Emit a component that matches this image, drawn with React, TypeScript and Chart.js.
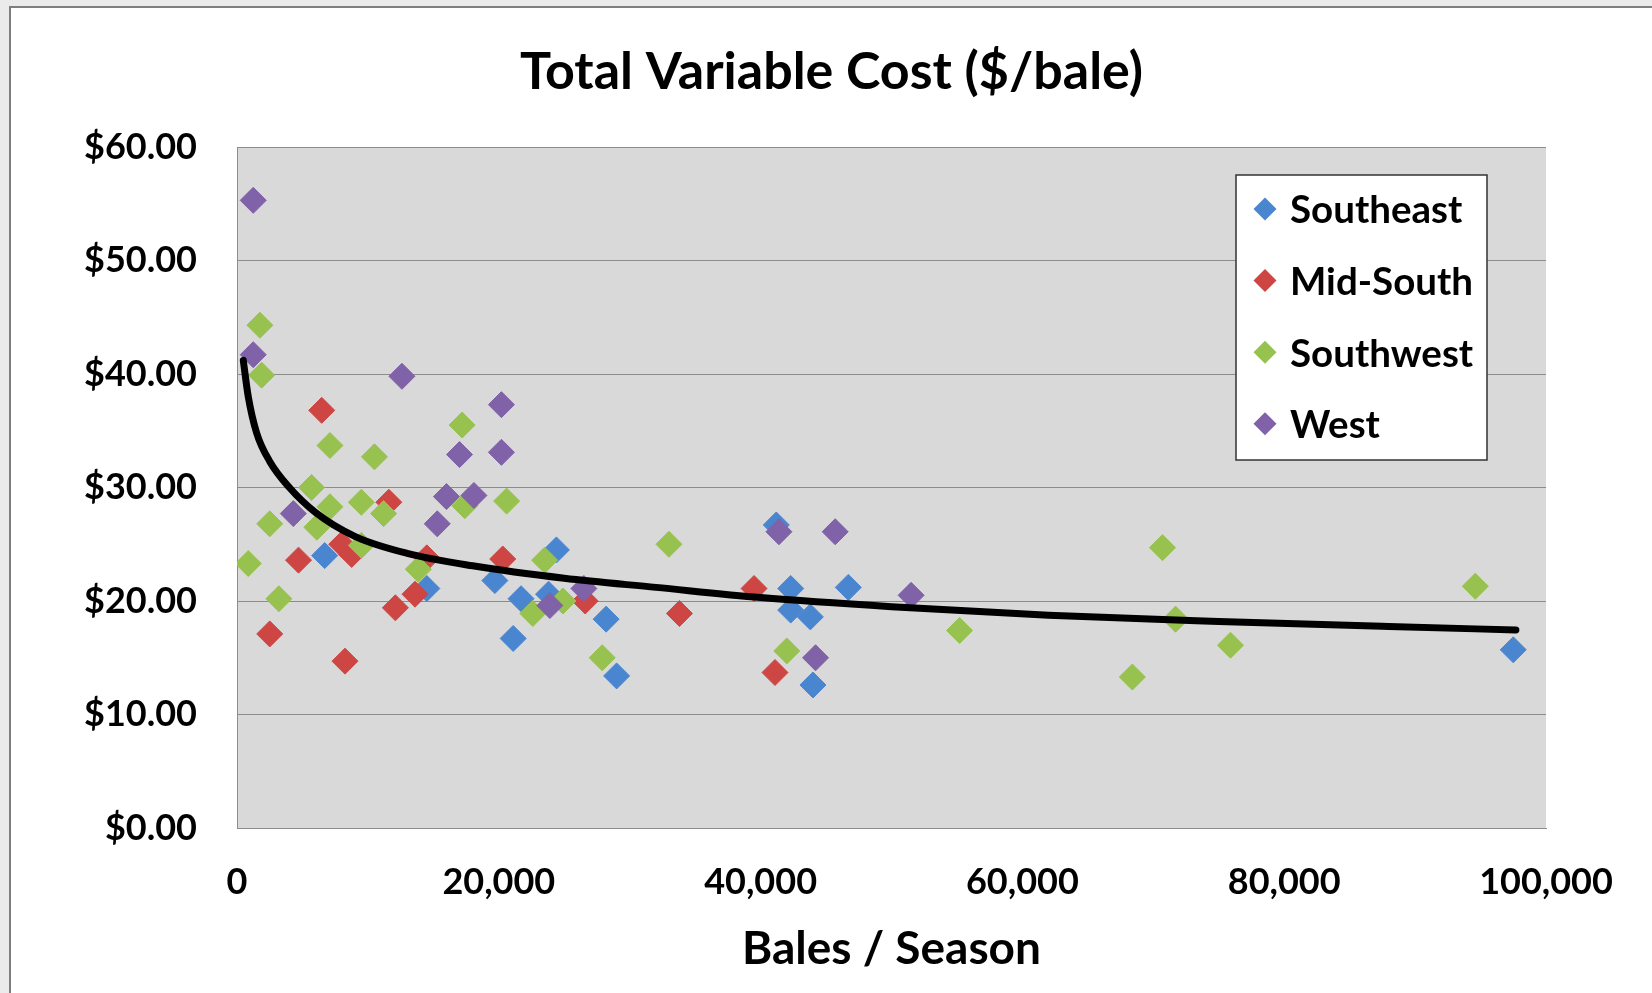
import React, { useEffect, useRef } from "react";
import { Chart, registerables } from "chart.js";

Chart.register(...registerables);

// ---- Data ----
const seriesNames = ["Southeast", "Mid-South", "Southwest", "West"];

const southeastX = [6700, 14500, 19700, 21700, 21100, 23800, 24400, 28200, 29000, 41200, 42300, 42300, 43800, 44000, 46700, 97500];
const southeastY = [24.0, 21.1, 21.8, 20.2, 16.7, 20.6, 24.5, 18.4, 13.4, 26.7, 21.1, 19.2, 18.6, 12.6, 21.2, 15.7];

const midSouthX = [2500, 4700, 6470, 8000, 8250, 8760, 11600, 12100, 13600, 14500, 20300, 26600, 33800, 39500, 41100];
const midSouthY = [17.1, 23.6, 36.8, 25.0, 14.7, 24.1, 28.7, 19.4, 20.6, 23.8, 23.7, 20.0, 18.9, 21.1, 13.7];

const southwestX = [860, 1750, 1880, 2500, 3200, 5700, 6100, 7100, 7100, 9500, 9500, 10500, 11200, 13850, 17200, 17400, 20600, 22600, 23500, 24900, 27900, 33000, 42000, 55200, 68400, 70700, 71700, 75900, 94600];
const southwestY = [23.3, 44.3, 39.9, 26.8, 20.2, 30.0, 26.5, 33.7, 28.3, 28.7, 24.9, 32.7, 27.7, 22.8, 35.5, 28.4, 28.8, 18.9, 23.6, 20.0, 15.0, 25.0, 15.6, 17.4, 13.3, 24.7, 18.4, 16.1, 21.3];

const westX = [1240, 1240, 4300, 12600, 15300, 16000, 17000, 18100, 20200, 20200, 23900, 26500, 41400, 44200, 45700, 51500];
const westY = [55.3, 41.7, 27.7, 39.8, 26.8, 29.2, 32.9, 29.3, 37.3, 33.1, 19.6, 21.1, 26.1, 15.0, 26.1, 20.5];

// trend line, points
const trendX = [480, 860, 1500, 2500, 4000, 6000, 9000, 13000, 18000, 25000, 32000, 40000, 50000, 62000, 75000, 88000, 97700];
const trendY = [41.2, 38.0, 34.8, 32.3, 30.0, 27.8, 25.7, 24.2, 23.1, 22.0, 21.2, 20.3, 19.5, 18.75, 18.2, 17.75, 17.45];

const xTickStep = 20000;
const yTickStep = 10;

const colors = ["#4a86d0", "#cd4644", "#98c250", "#8062a8"];

const FONT = "Lato";

const zip = (xs: number[], ys: number[]) => xs.map((x, i) => ({ x, y: ys[i] }));

const plotBg = {
  id: "plotBg",
  beforeDraw(chart: any) {
    const { ctx, chartArea: a } = chart;
    ctx.save();
    ctx.fillStyle = "#d9d9d9";
    ctx.fillRect(a.left, a.top, a.right - a.left, a.bottom - a.top);
    ctx.restore();
  },
};

const boxLegend = {
  id: "boxLegend",
  afterDraw(chart: any) {
    const { ctx, chartArea: a } = chart;
    const w = 251;
    const h = 285;
    const x0 = a.right - 59 - w;
    const y0 = a.top + 28;
    ctx.save();
    ctx.fillStyle = "#ffffff";
    ctx.fillRect(x0, y0, w, h);
    ctx.strokeStyle = "#333333";
    ctx.lineWidth = 1.5;
    ctx.strokeRect(x0, y0, w, h);
    ctx.font = `bold 38.5px ${FONT}`;
    ctx.textBaseline = "middle";
    ctx.textAlign = "left";
    seriesNames.forEach((name, i) => {
      const ds = chart.data.datasets[i];
      const cy = y0 + 34 + i * 71.6;
      const cx = x0 + 29;
      const r = 11.5;
      ctx.beginPath();
      ctx.moveTo(cx - r, cy);
      ctx.lineTo(cx, cy - r);
      ctx.lineTo(cx + r, cy);
      ctx.lineTo(cx, cy + r);
      ctx.closePath();
      ctx.fillStyle = ds.backgroundColor;
      ctx.fill();
      ctx.fillStyle = "#000000";
      ctx.fillText(name, x0 + 54, cy + 2);
    });
    ctx.restore();
  },
};

export default function App() {
  const ref = useRef<HTMLCanvasElement | null>(null);

  useEffect(() => {
    let chart: Chart | null = null;
    let cancelled = false;
    const make = () => {
      if (cancelled || !ref.current) return;
      const seriesX = [southeastX, midSouthX, southwestX, westX];
      const seriesY = [southeastY, midSouthY, southwestY, westY];
      const scatterSets = seriesNames.map((name, i) => ({
        label: name,
        data: zip(seriesX[i], seriesY[i]),
        backgroundColor: colors[i],
        borderColor: colors[i],
        borderWidth: 1,
        pointStyle: "rectRot",
        pointRadius: 13,
        pointHoverRadius: 13,
        order: 4 - i,
      }));
      chart = new Chart(ref.current, {
        type: "scatter",
        data: {
          datasets: [
            ...scatterSets,
            {
              label: "Trend",
              data: zip(trendX, trendY),
              showLine: true,
              borderColor: "#000000",
              backgroundColor: "#000000",
              borderWidth: 7,
              pointRadius: 0,
              pointHoverRadius: 0,
              cubicInterpolationMode: "monotone",
              borderCapStyle: "round",
              order: 0,
            } as any,
          ],
        },
        options: {
          animation: false,
          responsive: false,
          events: [],
          layout: { padding: 0 },
          plugins: {
            legend: { display: false },
            tooltip: { enabled: false },
            title: {
              display: true,
              text: "Total Variable Cost ($/bale)",
              color: "#000000",
              font: { family: FONT, size: 52, weight: "bold" },
              padding: { top: 33, bottom: 43.6 },
            },
          },
          scales: {
            x: {
              type: "linear",
              min: 0,
              max: 100000,
              ticks: {
                stepSize: xTickStep,
                padding: 33,
                color: "#000000",
                font: { family: FONT, size: 36, weight: "bold" },
                callback: (v: any) => Number(v).toLocaleString("en-US"),
              },
              grid: { display: false, drawTicks: false },
              border: { display: true, color: "#8c8c8c", width: 1 },
              title: {
                display: true,
                text: "Bales / Season",
                color: "#000000",
                font: { family: FONT, size: 46, weight: "bold" },
                padding: { top: 17, bottom: 16 },
              },
              afterFit: (s: any) => {
                s.height = 165;
              },
            },
            y: {
              type: "linear",
              min: 0,
              max: 60,
              ticks: {
                stepSize: yTickStep,
                padding: 40,
                color: "#000000",
                font: { family: FONT, size: 36, weight: "bold" },
                callback: (v: any) => "$" + Number(v).toFixed(2),
              },
              grid: { color: "#8c8c8c", lineWidth: 1, drawTicks: false },
              border: { display: true, color: "#8c8c8c", width: 1 },
              afterFit: (s: any) => {
                s.width = 226;
              },
            },
            rightSpace: {
              type: "linear",
              position: "right",
              axis: "y",
              min: 0,
              max: 60,
              ticks: { display: false },
              grid: { display: false, drawTicks: false },
              border: { display: false },
              afterFit: (s: any) => {
                s.width = 106;
              },
            },
          },
        },
        plugins: [plotBg, boxLegend],
      } as any);
    };
    const fontsReady = (document as any).fonts
      ? Promise.all([
          (document as any).fonts.load(`bold 36px ${FONT}`),
          (document as any).fonts.load(`bold 52px ${FONT}`),
        ]).catch(() => null)
      : Promise.resolve(null);
    fontsReady.then(make);
    return () => {
      cancelled = true;
      if (chart) chart.destroy();
    };
  }, []);

  return (
    <div style={{ position: "fixed", left: 0, top: 0, width: 1652, height: 993, background: "#ebebeb", overflow: "hidden" }}>
      <div
        style={{
          position: "absolute",
          left: 9,
          top: 6,
          width: 1643,
          height: 987,
          boxSizing: "border-box",
          borderLeft: "2px solid #7f7f7f",
          borderTop: "2px solid #7f7f7f",
          background: "#ffffff",
        }}
      >
        <canvas ref={ref} width={1641} height={985} style={{ display: "block", width: 1641, height: 985 }} />
      </div>
    </div>
  );
}
